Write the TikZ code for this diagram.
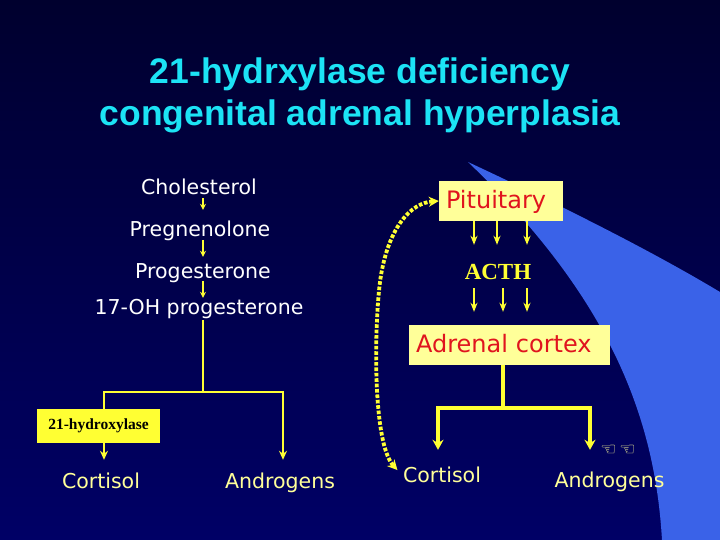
\documentclass[tikz,border=0pt]{standalone}
\usepackage{fontspec}
\setmainfont{DejaVu Sans}
\newfontfamily\headfont{Liberation Sans}
\newfontfamily\timesfont{Liberation Serif}
\usetikzlibrary{arrows.meta,calc}
\definecolor{SlideTop}{HTML}{00002E}
\definecolor{SlideBottom}{HTML}{000066}
\definecolor{SwooshBlue}{HTML}{3A62E8}
\definecolor{TitleCyan}{HTML}{1CE3F5}
\definecolor{PathYellow}{HTML}{FFFF33}
\definecolor{PaleYellow}{HTML}{FFFF99}
\definecolor{GlandRed}{HTML}{E0141E}

\begin{document}
\begin{tikzpicture}[x=1pt,y=-1pt,>=Stealth,
 headline/.style={text=TitleCyan,anchor=base,inner sep=0pt,font=\headfont\bfseries\fontsize{35.5}{42}\selectfont},
 chem/.style={text=white,anchor=base,inner sep=0pt,text height=15pt,text depth=3pt,font=\fontsize{20.5}{24}\selectfont},
 product/.style={chem,text=PaleYellow},
 gland/.style={fill=PaleYellow,text=GlandRed,minimum height=40pt,inner ysep=0pt,inner xsep=7pt,align=left,text height=17pt,text depth=1pt,font=\fontsize{24}{28}\selectfont},
 enzyme/.style={fill=PathYellow,text=black,minimum width=123pt,minimum height=34pt,inner sep=0pt,font=\timesfont\bfseries\fontsize{15.5}{18}\selectfont},
 hormone/.style={text=PathYellow,anchor=base,inner sep=0pt,text height=15pt,text depth=2pt,font=\timesfont\bfseries\fontsize{23}{26}\selectfont},
 hand/.style={text=PaleYellow,inner sep=0pt,font=\fontsize{18}{20}\selectfont},
 convert/.style={draw=PathYellow,line width=1.4pt,-{Stealth[length=6pt,width=6pt]}},
 signal/.style={draw=PathYellow,line width=1.6pt,-{Stealth[length=9pt,width=7pt]}},
 branch/.style={draw=PathYellow,line width=2pt},
 branch arrow/.style={branch,-{Stealth[length=9pt,width=8pt]}},
 thick branch/.style={draw=PathYellow,line width=3.5pt},
 thick arrow/.style={thick branch,-{Stealth[length=10pt,width=11pt]}},
 feedback/.style={draw=PathYellow,line width=3.8pt,dash pattern=on 3.6pt off 1.8pt,{Stealth[length=10pt,width=10pt]}-{Stealth[length=10pt,width=10pt]}}]
\fill[top color=SlideTop,bottom color=SlideBottom] (0,0) rectangle (720,540);
\useasboundingbox (0,0) rectangle (720,540);
\fill[SwooshBlue] (468,162) .. controls (560,205) and (650,250) .. (720,292) -- (720,540) -- (662,540) .. controls (655,420) and (612,300) .. cycle;
\node[headline] (head1) at (360,84) {21-hydrxylase deficiency};
\node[headline] (head2) at (360,126) {congenital adrenal hyperplasia};
\coordinate (spine) at (203,0);
\node[chem] (chol) at (199,195) {Cholesterol};
\node[chem] (preg) at (200,236.7) {Pregnenolone};
\node[chem] (prog) at (203,278) {Progesterone};
\node[chem] (ohp) at (199,314) {17-OH progesterone};
\draw[convert,shorten >=11.7pt] (chol.south -| spine) -- (preg.north -| spine);
\draw[convert,shorten >=6pt] (preg.south -| spine) -- (prog.north -| spine);
\draw[convert,shorten >=1pt] (prog.south -| spine) -- (ohp.north -| spine);
\coordinate (fork) at (203,392);
\coordinate (forkL) at (104,392);
\coordinate (forkR) at (283,392);
\node[product] (cortL) at (101,488) {Cortisol};
\node[product] (andL) at (280,488) {Androgens};
\draw[branch,shorten <=3pt] (ohp.south -| spine) -- (fork);
\draw[branch arrow,shorten >=13pt] (fork) -| (forkL |- cortL.north);
\draw[branch arrow,shorten >=13pt] (fork) -| (forkR |- andL.north);
\node[enzyme] (hydrox) at (98.5,426) {21-hydroxylase};
\node[gland,text width=110pt] (pit) at (501,201) {Pituitary};
\node[hormone] (acth) at (498,279) {ACTH};
\node[gland,text width=187pt] (adr) at (509.5,344.5) {Adrenal cortex};
\foreach \dx in {-27,-4,26}
  \draw[signal,shorten >=19pt] ([xshift=\dx pt]pit.south) -- ([xshift=\dx pt]pit.south |- acth.north);
\foreach \dx in {-24,5,29}
  \draw[signal,shorten <=7pt,shorten >=12.5pt] ([xshift=\dx pt]acth.south) -- ([xshift=\dx pt]acth.south |- adr.north);
\coordinate (rfork) at (503,408);
\coordinate (rforkL) at (438,408);
\coordinate (rforkR) at (590,408);
\node[product] (cortR) at (442,482) {Cortisol};
\node[product] (andR) at (609.5,487) {Androgens};
\draw[thick branch] (adr.south -| rfork) -- (rfork);
\draw[thick arrow,shorten >=17pt] (rfork) -| (rforkL |- cortR.north);
\draw[thick arrow,shorten >=22pt] (rfork) -| (rforkR |- andR.north);
\node[hand] (hint) at (618,450) {☜\,☜};
\draw[feedback,shorten <=8pt] (cortR.west) .. controls (370,440) and (375,300) .. (382,270) .. controls (390,228) and (410,203) .. (pit.west);
\end{tikzpicture}
\end{document}
